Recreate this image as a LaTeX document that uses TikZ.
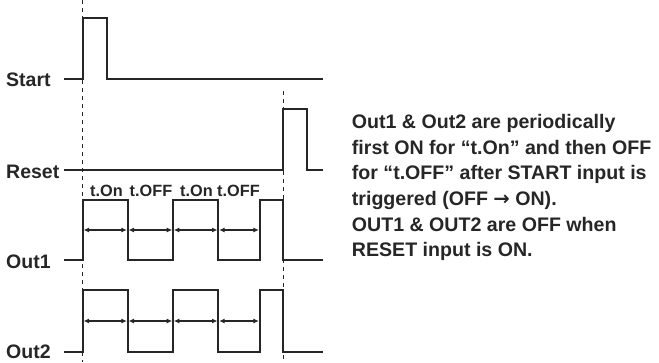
\documentclass[tikz,border=0pt]{standalone}
\usepackage{fontspec}
\setmainfont{Liberation Sans}
\newfontfamily\arrowfont{DejaVu Sans}
\usetikzlibrary{arrows.meta}
\begin{document}
\begin{tikzpicture}[x=1pt,y=-1pt,
  sig/.style={line width=1.9pt,draw=black!85,line join=miter},
  guide/.style={line width=1.4pt,draw=black!85,dash pattern=on 4pt off 4pt},
  dim/.style={line width=1.2pt,draw=black!85,{Latex[length=5.5pt,width=5pt]}-{Latex[length=5.5pt,width=5pt]}},
  lbl/.style={font=\bfseries\fontsize{19.5}{22}\selectfont,text=black!85,inner sep=0pt},
  tlbl/.style={font=\bfseries\fontsize{16.3}{18}\selectfont,text=black!85,inner sep=0pt}]
\useasboundingbox (0,0) rectangle (659,362);
% labels
\node[lbl,anchor=base west] (start) at (6,86.7) {Start};
\node[lbl,anchor=base west] (reset) at (6,178.3) {Reset};
\node[lbl,anchor=base west] (out1) at (6,268.3) {Out1};
\node[lbl,anchor=base west] (out2) at (6,358.3) {Out2};
% guides
\coordinate (g1t) at (82.7,0); \coordinate (g1b) at (82.7,362);
\coordinate (g2t) at (283.3,91); \coordinate (g2b) at (283.3,362);
\draw[guide] (g1t) -- (g1b);
\draw[guide] (g2t) -- (g2b);
% Start
\draw[sig] (64,79) -- (82.7,79) -- (82.7,18) -- (107,18) -- (107,79) -- (323,79);
% Reset
\draw[sig] (64,170) -- (283.3,170) -- (283.3,109) -- (307,109) -- (307,170) -- (323,170);
% Out1 / Out2
\foreach \hi/\lo/\ay in {200/260/230, 290/352/321}{
  \draw[sig] (64,\lo) -- (82.7,\lo) -- (82.7,\hi) -- (127.7,\hi) -- (127.7,\lo) -- (173,\lo) -- (173,\hi) -- (218.3,\hi) -- (218.3,\lo) -- (259.7,\lo) -- (259.7,\hi) -- (283.3,\hi) -- (283.3,\lo) -- (323,\lo);
  \draw[dim] (83.5,\ay) -- (126.9,\ay);
  \draw[dim] (128.5,\ay) -- (172.2,\ay);
  \draw[dim] (173.8,\ay) -- (217.5,\ay);
  \draw[dim] (219.1,\ay) -- (258.9,\ay);
}
% timing labels
\node[tlbl,anchor=base] (ton1) at (106.5,196.7) {t.On};
\node[tlbl,anchor=base] (toff1) at (151,196.7) {t.OFF};
\node[tlbl,anchor=base] (ton2) at (196.5,196.7) {t.On};
\node[tlbl,anchor=base] (toff2) at (238.5,196.7) {t.OFF};
% description
\node[lbl,anchor=base west,align=left,font=\bfseries\fontsize{19.6}{25.7}\selectfont] (desc) at (351.7,256.8)
{Out1 \& Out2 are periodically\\first ON for “t.On” and then OFF\\for “t.OFF” after START input is\\triggered (OFF {\arrowfont →} ON).\\OUT1 \& OUT2 are OFF when\\RESET input is ON.};
\end{tikzpicture}
\end{document}
